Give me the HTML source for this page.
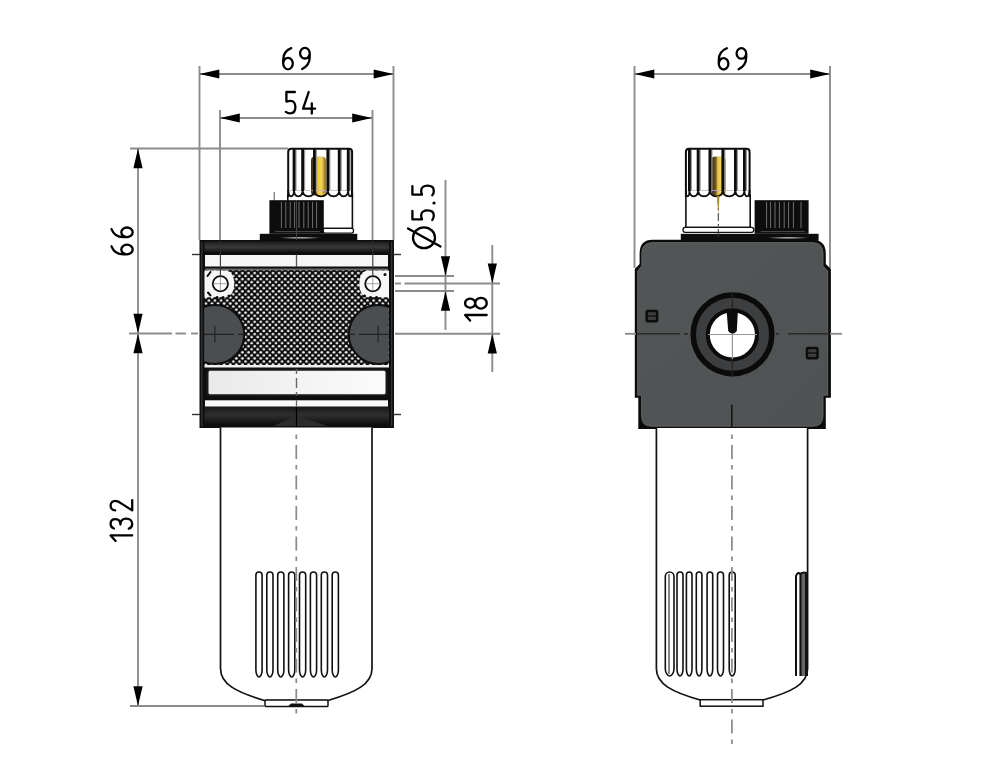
<!DOCTYPE html>
<html><head><meta charset="utf-8"><title>Lubricator drawing</title>
<style>html,body{margin:0;padding:0;background:#fff;width:1000px;height:764px;overflow:hidden;font-family:"Liberation Sans",sans-serif}svg{display:block}</style>
</head><body>
<svg width="1000" height="764" viewBox="0 0 1000 764"><defs><pattern id="knurl" x="0" y="0" width="6.1" height="6.1" patternUnits="userSpaceOnUse">
<rect width="6.1" height="6.1" fill="#0a0a0a"/>
<circle cx="1.525" cy="1.525" r="1.4" fill="#ececec"/><circle cx="4.575" cy="4.575" r="1.4" fill="#ececec"/></pattern>
<clipPath id="bodyL"><rect x="204.2" y="270" width="184.6" height="95"/></clipPath>
<linearGradient id="band2" x1="0" y1="0" x2="0" y2="1"><stop offset="0" stop-color="#161616"/><stop offset="0.4" stop-color="#303030"/><stop offset="1" stop-color="#0a0a0a"/></linearGradient><linearGradient id="pin" x1="0" y1="0" x2="1" y2="0"><stop offset="0" stop-color="#3a2e14"/><stop offset="0.3" stop-color="#6b5520"/><stop offset="0.45" stop-color="#e8c545"/><stop offset="0.7" stop-color="#f2d458"/><stop offset="1" stop-color="#8a6a22"/></linearGradient><linearGradient id="bar" x1="0" y1="0" x2="1" y2="0"><stop offset="0" stop-color="#e9e9e9"/><stop offset="0.5" stop-color="#f3f3f3"/><stop offset="1" stop-color="#fbfbfb"/></linearGradient><radialGradient id="hl"><stop offset="0" stop-color="#ccc"/><stop offset="1" stop-color="#0d0d0d"/></radialGradient><linearGradient id="bodyR" x1="0" y1="0" x2="1" y2="1"><stop offset="0" stop-color="#525657"/><stop offset="1" stop-color="#4e5253"/></linearGradient><linearGradient id="band" x1="0" y1="0" x2="0" y2="1"><stop offset="0" stop-color="#1a1a1a"/><stop offset="0.5" stop-color="#3a3a3a"/><stop offset="1" stop-color="#111"/></linearGradient>
</defs>
<rect x="199.5" y="240" width="194.5" height="188" fill="#0e0e0e"/>
<line x1="201.8" y1="242" x2="201.8" y2="426" stroke="#3a3a3a" stroke-width="1.2" />
<line x1="391.7" y1="242" x2="391.7" y2="426" stroke="#3a3a3a" stroke-width="1.2" />
<rect x="204.5" y="241.5" width="184.5" height="11" fill="url(#band)"/>
<rect x="205" y="255" width="183" height="11.5" fill="#f6f6f6"/>
<rect x="205" y="268.5" width="183" height="2" fill="#6a6a6a"/>
<rect x="204.5" y="270.5" width="184.5" height="94.5" fill="url(#knurl)"/>
<g clip-path="url(#bodyL)"><circle cx="214.7" cy="334.4" r="29.5" fill="#4a4e50" stroke="#0e0e0e" stroke-width="2"/><circle cx="378.3" cy="334.4" r="29.5" fill="#4a4e50" stroke="#0e0e0e" stroke-width="2"/></g>
<line x1="214.9" y1="326" x2="214.9" y2="342.6" stroke="#222" stroke-width="1.2" />
<line x1="378.1" y1="326" x2="378.1" y2="342.6" stroke="#222" stroke-width="1.2" />
<path d="M204.5 270.5 H227 Q234.2 273 234.2 283.7 Q234.2 294.5 227 297.2 H204.5 Z" fill="#f6f6f6"/>
<path d="M389 270.5 H366.5 Q359.3 273 359.3 283.7 Q359.3 294.5 366.5 297.2 H389 Z" fill="#f6f6f6"/>
<circle cx="217" cy="297.5" r="1.6" fill="#0a0a0a"/>
<circle cx="223" cy="297.5" r="1.6" fill="#0a0a0a"/>
<circle cx="229" cy="296" r="1.6" fill="#0a0a0a"/>
<circle cx="376.5" cy="297.5" r="1.6" fill="#0a0a0a"/>
<circle cx="370.5" cy="297.5" r="1.6" fill="#0a0a0a"/>
<circle cx="364.5" cy="296" r="1.6" fill="#0a0a0a"/>
<path d="M207.5 276 L210.5 272" stroke="#0a0a0a" stroke-width="2" stroke-linecap="round"/>
<path d="M208 292.5 L210.5 295.5" stroke="#0a0a0a" stroke-width="2" stroke-linecap="round"/>
<circle cx="385" cy="274.5" r="1.5" fill="#0a0a0a"/>
<circle cx="220.4" cy="283.7" r="7.6" fill="#fff" stroke="#0e0e0e" stroke-width="1.8"/>
<line x1="213.4" y1="283.7" x2="227.4" y2="283.7" stroke="#999" stroke-width="0.9" />
<line x1="220.4" y1="276.7" x2="220.4" y2="290.7" stroke="#999" stroke-width="0.9" />
<circle cx="372.8" cy="283.7" r="7.6" fill="#fff" stroke="#0e0e0e" stroke-width="1.8"/>
<line x1="365.8" y1="283.7" x2="379.8" y2="283.7" stroke="#999" stroke-width="0.9" />
<line x1="372.8" y1="276.7" x2="372.8" y2="290.7" stroke="#999" stroke-width="0.9" />
<rect x="204.5" y="365" width="184.5" height="2.5" fill="#f0f0f0"/>
<rect x="207.5" y="369.8" width="179" height="25.5" rx="2.5" fill="url(#bar)" stroke="#1a1a1a" stroke-width="2"/>
<rect x="205" y="400.3" width="183" height="6.2" fill="#f8f8f8"/>
<rect x="204.5" y="407" width="184.5" height="19" fill="url(#band2)"/>
<path d="M273.6 426 L296.5 415.5 L327 426 Z" fill="#2c2c2c"/>
<line x1="296.5" y1="407" x2="296.5" y2="427" stroke="#000" stroke-width="1.2" />
<line x1="274.2" y1="192" x2="274.2" y2="201" stroke="#555" stroke-width="1" />
<rect x="259.8" y="233.8" width="97.5" height="7" fill="#0d0d0d"/><ellipse cx="300" cy="237.8" rx="22" ry="1.3" fill="url(#hl)"/>
<rect x="287.8" y="195" width="64.6" height="33.5" fill="#fff" stroke="#111" stroke-width="1.6"/>
<rect x="323" y="228.3" width="30.5" height="4.8" rx="2" fill="#fff" stroke="#111" stroke-width="1.3"/>
<rect x="269.4" y="200.2" width="54.400000000000034" height="33.6" fill="#0d0d0d"/><line x1="281.4" y1="202" x2="281.4" y2="228" stroke="#7a7a7a" stroke-width="0.9" /><line x1="285.8" y1="202" x2="285.8" y2="228" stroke="#7a7a7a" stroke-width="0.9" /><line x1="290.2" y1="202" x2="290.2" y2="228" stroke="#7a7a7a" stroke-width="0.9" /><line x1="294.6" y1="202" x2="294.6" y2="228" stroke="#7a7a7a" stroke-width="0.9" /><line x1="299" y1="202" x2="299" y2="228" stroke="#7a7a7a" stroke-width="0.9" /><line x1="303.8" y1="202" x2="303.8" y2="228" stroke="#7a7a7a" stroke-width="0.9" /><line x1="308.2" y1="202" x2="308.2" y2="228" stroke="#7a7a7a" stroke-width="0.9" /><line x1="312.6" y1="202" x2="312.6" y2="228" stroke="#7a7a7a" stroke-width="0.9" /><line x1="316.6" y1="202" x2="316.6" y2="228" stroke="#7a7a7a" stroke-width="0.9" /><line x1="275.4" y1="231.6" x2="319.8" y2="231.6" stroke="#555" stroke-width="0.9" />
<path d="M288.2 197 V152 Q288.2 148.8 291.4 148.8 H348.90000000000003 Q352.1 148.8 352.1 152 V197" fill="#fff" stroke="#0d0d0d" stroke-width="2"/><rect x="311" y="156.5" width="15" height="39" rx="4" fill="url(#pin)"/><line x1="288.2" y1="190.5" x2="352.1" y2="190.5" stroke="#bbb" stroke-width="0.8" /><path d="M288.2 190 Q288.2 196.3 291.1 196.3 Q294 196.3 294 190 M294 190 Q294 196.3 298.3 196.3 Q302.6 196.3 302.6 190 M302.6 190 Q302.6 196.3 308.5 196.3 Q314.4 196.3 314.4 190 M314.4 190 Q314.4 196.3 321.1 196.3 Q327.8 196.3 327.8 190 M327.8 190 Q327.8 196.3 333.5 196.3 Q339.2 196.3 339.2 190 M339.2 190 Q339.2 196.3 343.7 196.3 Q348.2 196.3 348.2 190 M348.2 190 Q348.2 196.3 350.15 196.3 Q352.1 196.3 352.1 190 " fill="none" stroke="#0d0d0d" stroke-width="1.8"/><line x1="295.8" y1="150" x2="295.8" y2="190" stroke="#9a9a9a" stroke-width="1.6" /><line x1="294" y1="149" x2="294" y2="191" stroke="#0d0d0d" stroke-width="2.8" /><line x1="304.40000000000003" y1="150" x2="304.40000000000003" y2="190" stroke="#9a9a9a" stroke-width="1.6" /><line x1="302.6" y1="149" x2="302.6" y2="191" stroke="#0d0d0d" stroke-width="2.8" /><line x1="316.2" y1="150" x2="316.2" y2="190" stroke="#9a9a9a" stroke-width="1.6" /><line x1="314.4" y1="149" x2="314.4" y2="191" stroke="#0d0d0d" stroke-width="2.8" /><line x1="329.6" y1="150" x2="329.6" y2="190" stroke="#9a9a9a" stroke-width="1.6" /><line x1="327.8" y1="149" x2="327.8" y2="191" stroke="#0d0d0d" stroke-width="2.8" /><line x1="341.0" y1="150" x2="341.0" y2="190" stroke="#9a9a9a" stroke-width="1.6" /><line x1="339.2" y1="149" x2="339.2" y2="191" stroke="#0d0d0d" stroke-width="2.8" /><line x1="350.0" y1="150" x2="350.0" y2="190" stroke="#9a9a9a" stroke-width="1.6" /><line x1="348.2" y1="149" x2="348.2" y2="191" stroke="#0d0d0d" stroke-width="2.8" />
<path d="M220.5 427.5 V668.4 C220.5 684 236 692 264.5 700.5 H328 C356.5 692 372 684 372 668.4 V427.5" fill="#fff" stroke="#111" stroke-width="1.7"/>
<rect x="265" y="700" width="63" height="6.6" rx="1.2" fill="#fff" stroke="#111" stroke-width="1.5"/>
<path d="M288.5 706 L291 703.5 H302 L304.5 706 Z" fill="#111"/>
<path d="M255.90 575.10 A3.10 3.10 0 0 1 262.10 575.10 V670.00 C262.10 674.50 260.20 677.00 259.00 677.00 C257.80 677.00 255.90 674.50 255.90 670.00 Z" fill="none" stroke="#111" stroke-width="1.6"/>
<path d="M266.80 575.10 A3.10 3.10 0 0 1 273.00 575.10 V670.00 C273.00 674.50 271.10 677.00 269.90 677.00 C268.70 677.00 266.80 674.50 266.80 670.00 Z" fill="none" stroke="#111" stroke-width="1.6"/>
<path d="M277.70 575.10 A3.10 3.10 0 0 1 283.90 575.10 V670.00 C283.90 674.50 282.00 677.00 280.80 677.00 C279.60 677.00 277.70 674.50 277.70 670.00 Z" fill="none" stroke="#111" stroke-width="1.6"/>
<path d="M288.60 575.10 A3.10 3.10 0 0 1 294.80 575.10 V670.00 C294.80 674.50 292.90 677.00 291.70 677.00 C290.50 677.00 288.60 674.50 288.60 670.00 Z" fill="none" stroke="#111" stroke-width="1.6"/>
<path d="M299.50 575.10 A3.10 3.10 0 0 1 305.70 575.10 V670.00 C305.70 674.50 303.80 677.00 302.60 677.00 C301.40 677.00 299.50 674.50 299.50 670.00 Z" fill="none" stroke="#111" stroke-width="1.6"/>
<path d="M310.40 575.10 A3.10 3.10 0 0 1 316.60 575.10 V670.00 C316.60 674.50 314.70 677.00 313.50 677.00 C312.30 677.00 310.40 674.50 310.40 670.00 Z" fill="none" stroke="#111" stroke-width="1.6"/>
<path d="M321.30 575.10 A3.10 3.10 0 0 1 327.50 575.10 V670.00 C327.50 674.50 325.60 677.00 324.40 677.00 C323.20 677.00 321.30 674.50 321.30 670.00 Z" fill="none" stroke="#111" stroke-width="1.6"/>
<path d="M332.20 575.10 A3.10 3.10 0 0 1 338.40 575.10 V670.00 C338.40 674.50 336.50 677.00 335.30 677.00 C334.10 677.00 332.20 674.50 332.20 670.00 Z" fill="none" stroke="#111" stroke-width="1.6"/>
<line x1="199.5" y1="66" x2="199.5" y2="240" stroke="#8c8c8c" stroke-width="1.9" />
<line x1="393.5" y1="66" x2="393.5" y2="240" stroke="#8c8c8c" stroke-width="1.9" />
<line x1="199.5" y1="74" x2="393.5" y2="74" stroke="#8c8c8c" stroke-width="1.9" />
<polygon points="199.5,74.0 219.3,69.4 219.3,78.6" fill="#000"/>
<polygon points="393.5,74.0 373.7,69.4 373.7,78.6" fill="#000"/>
<line x1="220" y1="110" x2="220" y2="240" stroke="#8c8c8c" stroke-width="1.9" />
<line x1="372.5" y1="110" x2="372.5" y2="240" stroke="#8c8c8c" stroke-width="1.9" />
<line x1="220.4" y1="241" x2="220.4" y2="276" stroke="#333" stroke-width="1.1" />
<line x1="372.8" y1="241" x2="372.8" y2="276" stroke="#333" stroke-width="1.1" />
<line x1="220" y1="118" x2="372" y2="118" stroke="#8c8c8c" stroke-width="1.9" />
<polygon points="220.0,118.0 239.8,113.4 239.8,122.6" fill="#000"/>
<polygon points="372.0,118.0 352.2,113.4 352.2,122.6" fill="#000"/>
<line x1="130" y1="148.5" x2="288" y2="148.5" stroke="#8c8c8c" stroke-width="1.9" />
<line x1="138" y1="148.5" x2="138" y2="706" stroke="#8c8c8c" stroke-width="1.9" />
<polygon points="138.0,148.5 133.4,168.3 142.6,168.3" fill="#000"/>
<polygon points="138.0,333.5 133.4,313.7 142.6,313.7" fill="#000"/>
<polygon points="138.0,333.5 133.4,353.3 142.6,353.3" fill="#000"/>
<polygon points="138.0,706.0 133.4,686.2 142.6,686.2" fill="#000"/>
<line x1="129" y1="333.5" x2="172" y2="333.5" stroke="#8c8c8c" stroke-width="1.9" />
<line x1="175.5" y1="333.5" x2="186" y2="333.5" stroke="#8c8c8c" stroke-width="1.9" />
<line x1="191" y1="333.5" x2="198" y2="333.5" stroke="#8c8c8c" stroke-width="1.9" />
<line x1="130" y1="706" x2="264" y2="706" stroke="#8c8c8c" stroke-width="1.9" />
<line x1="192" y1="254.5" x2="200" y2="254.5" stroke="#333" stroke-width="1.4" />
<line x1="393" y1="254.5" x2="401" y2="254.5" stroke="#333" stroke-width="1.4" />
<line x1="192" y1="414.5" x2="200" y2="414.5" stroke="#333" stroke-width="1.4" />
<line x1="393" y1="414.5" x2="401" y2="414.5" stroke="#333" stroke-width="1.4" />
<line x1="395" y1="276" x2="454" y2="276" stroke="#8c8c8c" stroke-width="1.9" />
<line x1="395" y1="291" x2="454" y2="291" stroke="#8c8c8c" stroke-width="1.9" />
<line x1="395" y1="283.5" x2="401" y2="283.5" stroke="#8c8c8c" stroke-width="1.9" />
<line x1="404.5" y1="283.5" x2="500" y2="283.5" stroke="#8c8c8c" stroke-width="1.9" />
<line x1="395" y1="333.8" x2="500" y2="333.8" stroke="#8c8c8c" stroke-width="1.9" />
<line x1="445.5" y1="180" x2="445.5" y2="330" stroke="#8c8c8c" stroke-width="1.9" />
<polygon points="445.5,276.0 440.9,256.2 450.1,256.2" fill="#000"/>
<polygon points="445.5,291.0 440.9,310.8 450.1,310.8" fill="#000"/>
<line x1="492.3" y1="245" x2="492.3" y2="372" stroke="#8c8c8c" stroke-width="1.9" />
<polygon points="492.3,283.4 487.7,263.6 496.9,263.6" fill="#000"/>
<polygon points="492.3,333.8 487.7,353.6 496.9,353.6" fill="#000"/>
<line x1="296.5" y1="200" x2="296.5" y2="240" stroke="#444" stroke-width="1" />
<line x1="296.5" y1="254.5" x2="296.5" y2="267" stroke="#555" stroke-width="1.3" />
<line x1="296.5" y1="369" x2="296.5" y2="395.5" stroke="#666" stroke-width="1.4" stroke-dasharray="5 4 10 4"/>
<line x1="296.5" y1="400.3" x2="296.5" y2="406.5" stroke="#666" stroke-width="1.3" />
<line x1="296.3" y1="430" x2="296.3" y2="715" stroke="#8c8c8c" stroke-width="1.75" stroke-dasharray="14 6 4.5 6" stroke-dashoffset="15.6"/>
<line x1="204" y1="334.4" x2="244" y2="334.4" stroke="#222" stroke-width="1.3" stroke-dasharray="30 4 6 4"/>
<line x1="349" y1="334.4" x2="389" y2="334.4" stroke="#222" stroke-width="1.3" stroke-dasharray="6 4 30 4"/>
<line x1="634.5" y1="66" x2="634.5" y2="268" stroke="#8c8c8c" stroke-width="1.9" />
<line x1="830" y1="66" x2="830" y2="268" stroke="#8c8c8c" stroke-width="1.9" />
<line x1="634.5" y1="74" x2="830" y2="74" stroke="#8c8c8c" stroke-width="1.9" />
<polygon points="634.5,74.0 654.3,69.4 654.3,78.6" fill="#000"/>
<polygon points="830.0,74.0 810.2,69.4 810.2,78.6" fill="#000"/>
<rect x="680.8" y="233.8" width="137.80000000000007" height="7" fill="#0d0d0d"/><ellipse cx="788" cy="237.8" rx="22" ry="1.3" fill="url(#hl)"/>
<rect x="685.9" y="195" width="64.3" height="32.5" fill="#fff" stroke="#111" stroke-width="1.6"/>
<rect x="683" y="227.3" width="70.8" height="5" rx="2.2" fill="#fff" stroke="#111" stroke-width="1.3"/>
<rect x="754.6" y="200.2" width="54.0" height="33.6" fill="#0d0d0d"/><line x1="766.6" y1="202" x2="766.6" y2="228" stroke="#7a7a7a" stroke-width="0.9" /><line x1="770.6" y1="202" x2="770.6" y2="228" stroke="#7a7a7a" stroke-width="0.9" /><line x1="775" y1="202" x2="775" y2="228" stroke="#7a7a7a" stroke-width="0.9" /><line x1="779.4" y1="202" x2="779.4" y2="228" stroke="#7a7a7a" stroke-width="0.9" /><line x1="784.2" y1="202" x2="784.2" y2="228" stroke="#7a7a7a" stroke-width="0.9" /><line x1="788.6" y1="202" x2="788.6" y2="228" stroke="#7a7a7a" stroke-width="0.9" /><line x1="793.4" y1="202" x2="793.4" y2="228" stroke="#7a7a7a" stroke-width="0.9" /><line x1="801" y1="202" x2="801" y2="228" stroke="#7a7a7a" stroke-width="0.9" /><line x1="760.6" y1="231.6" x2="804.6" y2="231.6" stroke="#555" stroke-width="0.9" />
<path d="M685.9 197 V152 Q685.9 148.8 689.1 148.8 H746.4 Q749.6 148.8 749.6 152 V197" fill="#fff" stroke="#0d0d0d" stroke-width="2"/><rect x="711.4" y="156.5" width="14.200000000000045" height="39" rx="4" fill="url(#pin)"/><line x1="685.9" y1="190.5" x2="749.6" y2="190.5" stroke="#bbb" stroke-width="0.8" /><path d="M685.9 190 Q685.9 196.3 687.65 196.3 Q689.4 196.3 689.4 190 M689.4 190 Q689.4 196.3 693.75 196.3 Q698.1 196.3 698.1 190 M698.1 190 Q698.1 196.3 704.0 196.3 Q709.9 196.3 709.9 190 M709.9 190 Q709.9 196.3 716.3499999999999 196.3 Q722.8 196.3 722.8 190 M722.8 190 Q722.8 196.3 729.0999999999999 196.3 Q735.4 196.3 735.4 190 M735.4 190 Q735.4 196.3 739.9 196.3 Q744.4 196.3 744.4 190 M744.4 190 Q744.4 196.3 747.0 196.3 Q749.6 196.3 749.6 190 " fill="none" stroke="#0d0d0d" stroke-width="1.8"/><line x1="691.1999999999999" y1="150" x2="691.1999999999999" y2="190" stroke="#9a9a9a" stroke-width="1.6" /><line x1="689.4" y1="149" x2="689.4" y2="191" stroke="#0d0d0d" stroke-width="2.8" /><line x1="699.9" y1="150" x2="699.9" y2="190" stroke="#9a9a9a" stroke-width="1.6" /><line x1="698.1" y1="149" x2="698.1" y2="191" stroke="#0d0d0d" stroke-width="2.8" /><line x1="711.6999999999999" y1="150" x2="711.6999999999999" y2="190" stroke="#9a9a9a" stroke-width="1.6" /><line x1="709.9" y1="149" x2="709.9" y2="191" stroke="#0d0d0d" stroke-width="2.8" /><line x1="724.5999999999999" y1="150" x2="724.5999999999999" y2="190" stroke="#9a9a9a" stroke-width="1.6" /><line x1="722.8" y1="149" x2="722.8" y2="191" stroke="#0d0d0d" stroke-width="2.8" /><line x1="737.1999999999999" y1="150" x2="737.1999999999999" y2="190" stroke="#9a9a9a" stroke-width="1.6" /><line x1="735.4" y1="149" x2="735.4" y2="191" stroke="#0d0d0d" stroke-width="2.8" /><line x1="746.1999999999999" y1="150" x2="746.1999999999999" y2="190" stroke="#9a9a9a" stroke-width="1.6" /><line x1="744.4" y1="149" x2="744.4" y2="191" stroke="#0d0d0d" stroke-width="2.8" />
<line x1="718.3" y1="197" x2="718.3" y2="240" stroke="#333" stroke-width="1" stroke-dasharray="8 3 2 3"/>
<path d="M717 196 L719.5 196 L718.6 212 L718 212 Z" fill="#b08a30"/>
<path d="M652.7 239.8 H812 Q825.8 239.8 825.8 253.5 V264 L830.9 269 V397.8 H825.8 V429 H638.3 V397.8 H634.8 V269 L639.6 264 V253.5 Q639.6 239.8 652.7 239.8 Z" fill="#0b0b0b"/>
<path d="M653 242.6 H812 Q823 242.6 823 253.5 V266 L827.8 271 V395.2 H823 V416 Q823 426.2 813 426.2 H651 Q641.6 426.2 641.6 416 V395.2 H637.6 V271 L641.8 266 V253.5 Q641.8 242.6 653 242.6 Z" fill="url(#bodyR)" stroke="#6a6c6d" stroke-width="0.8"/>
<circle cx="732.5" cy="334.3" r="39.3" fill="#3d3e3f" stroke="#0b0b0b" stroke-width="5.6"/>
<circle cx="732.4" cy="334.8" r="24.6" fill="#fff" stroke="#0b0b0b" stroke-width="4"/>
<line x1="708" y1="334.5" x2="757" y2="334.5" stroke="#999" stroke-width="1.2" />
<line x1="732.4" y1="334" x2="732.4" y2="360" stroke="#999" stroke-width="1.2" />
<line x1="732.4" y1="293" x2="732.4" y2="310" stroke="#222" stroke-width="1.2" />
<line x1="732.4" y1="359" x2="732.4" y2="376" stroke="#222" stroke-width="1.2" />
<path d="M726.5 309 H738 L736.8 331 Q732.4 336.5 728.2 331 Z" fill="#0b0b0b"/>
<rect x="645.4" y="309.7" width="13" height="12.8" rx="2.2" fill="#0d0d0d"/><rect x="647.9" y="312.2" width="8" height="3.2" fill="#3e3e3e"/><rect x="647.9" y="316.7" width="8" height="3.2" fill="#3e3e3e"/>
<rect x="805.7" y="346.7" width="13" height="12.8" rx="2.2" fill="#0d0d0d"/><rect x="808.2" y="349.2" width="8" height="3.2" fill="#3e3e3e"/><rect x="808.2" y="353.7" width="8" height="3.2" fill="#3e3e3e"/>
<line x1="625" y1="333.8" x2="636" y2="333.8" stroke="#8c8c8c" stroke-width="1.9" />
<line x1="637" y1="333.8" x2="680" y2="333.8" stroke="#2a2a2a" stroke-width="1.6" />
<line x1="684" y1="333.8" x2="688" y2="333.8" stroke="#2a2a2a" stroke-width="1.6" />
<line x1="776" y1="333.8" x2="779" y2="333.8" stroke="#2a2a2a" stroke-width="1.6" />
<line x1="788" y1="333.8" x2="829" y2="333.8" stroke="#2a2a2a" stroke-width="1.6" />
<line x1="830" y1="333.8" x2="842" y2="333.8" stroke="#8c8c8c" stroke-width="1.9" />
<line x1="731.8" y1="404.8" x2="731.8" y2="428" stroke="#111" stroke-width="1.5" />
<path d="M656.4 428 V668.8 C656.4 684 672 692 700.2 700 H763 C791.6 692 807.6 684 807.6 668.8 V428" fill="#fff" stroke="#111" stroke-width="1.7"/>
<rect x="700.2" y="699.7" width="62.8" height="6.5" fill="#fff" stroke="#111" stroke-width="1.5"/>
<path d="M665.30 576.35 A4.35 4.35 0 0 1 674.00 576.35 V669.00 C674.00 673.50 670.85 676.00 669.65 676.00 C668.45 676.00 665.30 673.50 665.30 669.00 Z" fill="none" stroke="#111" stroke-width="1.6"/>
<path d="M677.00 575.00 A3.00 3.00 0 0 1 683.00 575.00 V669.00 C683.00 673.50 681.20 676.00 680.00 676.00 C678.80 676.00 677.00 673.50 677.00 669.00 Z" fill="none" stroke="#111" stroke-width="1.6"/>
<path d="M686.40 574.80 A2.80 2.80 0 0 1 692.00 574.80 V669.00 C692.00 673.50 690.40 676.00 689.20 676.00 C688.00 676.00 686.40 673.50 686.40 669.00 Z" fill="none" stroke="#111" stroke-width="1.6"/>
<path d="M696.30 574.80 A2.80 2.80 0 0 1 701.90 574.80 V669.00 C701.90 673.50 700.30 676.00 699.10 676.00 C697.90 676.00 696.30 673.50 696.30 669.00 Z" fill="none" stroke="#111" stroke-width="1.6"/>
<path d="M707.10 574.80 A2.80 2.80 0 0 1 712.70 574.80 V669.00 C712.70 673.50 711.10 676.00 709.90 676.00 C708.70 676.00 707.10 673.50 707.10 669.00 Z" fill="none" stroke="#111" stroke-width="1.6"/>
<path d="M717.50 575.00 A3.00 3.00 0 0 1 723.50 575.00 V669.00 C723.50 673.50 721.70 676.00 720.50 676.00 C719.30 676.00 717.50 673.50 717.50 669.00 Z" fill="none" stroke="#111" stroke-width="1.6"/>
<path d="M729.20 575.00 A3.00 3.00 0 0 1 735.20 575.00 V669.00 C735.20 673.50 733.40 676.00 732.20 676.00 C731.00 676.00 729.20 673.50 729.20 669.00 Z" fill="none" stroke="#111" stroke-width="1.6"/>
<line x1="669" y1="574" x2="669" y2="674" stroke="#333" stroke-width="1.2" />
<rect x="801" y="572" width="4.5" height="104" fill="#666"/>
<path d="M796 676 V576 Q797.5 571.5 800.5 574 Q803 571.5 806.5 573 V676" fill="none" stroke="#111" stroke-width="2"/>
<line x1="800.5" y1="574" x2="800.5" y2="676" stroke="#111" stroke-width="2.2" />
<line x1="806.5" y1="573" x2="806.5" y2="676" stroke="#111" stroke-width="3" />
<line x1="731.9" y1="430" x2="731.9" y2="750" stroke="#8c8c8c" stroke-width="1.75" stroke-dasharray="14 6 4.5 6" stroke-dashoffset="15.6"/>
<path d="M9.2 1.3 C5 2.9 1.2 6.8 1.2 13 V16.8 A4.8 5.7 0 1 0 10.8 16.8 A4.8 5.7 0 1 0 1.2 16.8" transform="translate(282,46.8)" fill="none" stroke="#000" stroke-width="2.3" stroke-linecap="round" stroke-linejoin="round"/>
<path d="M11.2 6.4 V10.5 C11.2 16.2 7.8 20.2 3.6 22.2 M11.2 6.4 A4.8 5.3 0 1 0 1.6 6.4 A4.8 5.3 0 1 0 11.2 6.4" transform="translate(298.5,46.8)" fill="none" stroke="#000" stroke-width="2.3" stroke-linecap="round" stroke-linejoin="round"/>
<path d="M10.3 1.2 H1.8 V10.8 C3.2 10.2 4.6 10 6 10 C9 10 10.8 12.7 10.8 16.3 C10.8 20.2 8.7 22.6 5.6 22.6 C3.8 22.6 2.3 22 1.2 21.1" transform="translate(284.6,90.8)" fill="none" stroke="#000" stroke-width="2.3" stroke-linecap="round" stroke-linejoin="round"/>
<path d="M6.8 1.2 L1.2 17.9 H13.2 M9.9 12.6 V22.8" transform="translate(301.9,90.8)" fill="none" stroke="#000" stroke-width="2.3" stroke-linecap="round" stroke-linejoin="round"/>
<path d="M9.2 1.3 C5 2.9 1.2 6.8 1.2 13 V16.8 A4.8 5.7 0 1 0 10.8 16.8 A4.8 5.7 0 1 0 1.2 16.8" transform="translate(717.6,47)" fill="none" stroke="#000" stroke-width="2.3" stroke-linecap="round" stroke-linejoin="round"/>
<path d="M11.2 6.4 V10.5 C11.2 16.2 7.8 20.2 3.6 22.2 M11.2 6.4 A4.8 5.3 0 1 0 1.6 6.4 A4.8 5.3 0 1 0 11.2 6.4" transform="translate(735,47)" fill="none" stroke="#000" stroke-width="2.3" stroke-linecap="round" stroke-linejoin="round"/>
<path d="M9.2 1.3 C5 2.9 1.2 6.8 1.2 13 V16.8 A4.8 5.7 0 1 0 10.8 16.8 A4.8 5.7 0 1 0 1.2 16.8" transform="translate(110.2,255.5) rotate(-90)" fill="none" stroke="#000" stroke-width="2.3" stroke-linecap="round" stroke-linejoin="round"/>
<path d="M9.2 1.3 C5 2.9 1.2 6.8 1.2 13 V16.8 A4.8 5.7 0 1 0 10.8 16.8 A4.8 5.7 0 1 0 1.2 16.8" transform="translate(110.2,238.3) rotate(-90)" fill="none" stroke="#000" stroke-width="2.3" stroke-linecap="round" stroke-linejoin="round"/>
<path d="M1.2 6.2 L6.8 1.2 V22.8" transform="translate(109.4,542.2) rotate(-90)" fill="none" stroke="#000" stroke-width="2.3" stroke-linecap="round" stroke-linejoin="round"/>
<path d="M1.3 4.6 C1.9 2.4 3.8 1.2 6 1.2 C8.8 1.2 10.6 3.2 10.6 6 C10.6 9 8.6 11 5.2 11 C9 11 11.2 13.4 11.2 16.8 C11.2 20.5 8.8 22.8 5.8 22.8 C3.5 22.8 1.8 21.6 1.2 19.4" transform="translate(109.4,529.8) rotate(-90)" fill="none" stroke="#000" stroke-width="2.3" stroke-linecap="round" stroke-linejoin="round"/>
<path d="M1.2 5.8 C1.2 3 3.4 1.2 6 1.2 C8.8 1.2 10.8 3.2 10.8 6 C10.8 8.6 9.6 10.2 8 12.2 L1.2 22.8 H11.4" transform="translate(109.4,511.6) rotate(-90)" fill="none" stroke="#000" stroke-width="2.3" stroke-linecap="round" stroke-linejoin="round"/>
<path d="M1.2 6.2 L6.8 1.2 V22.8" transform="translate(463.9,321.8) rotate(-90)" fill="none" stroke="#000" stroke-width="2.3" stroke-linecap="round" stroke-linejoin="round"/>
<path d="M6 11.3 A4.5 5.05 0 1 1 6.01 11.3 Z M6 11.3 A5.3 5.75 0 1 0 6.01 11.3 Z" transform="translate(463.9,309.2) rotate(-90)" fill="none" stroke="#000" stroke-width="2.3" stroke-linecap="round" stroke-linejoin="round"/>
<path d="M10.3 1.2 H1.8 V10.8 C3.2 10.2 4.6 10 6 10 C9 10 10.8 12.7 10.8 16.3 C10.8 20.2 8.7 22.6 5.6 22.6 C3.8 22.6 2.3 22 1.2 21.1" transform="translate(411.2,221.2) rotate(-90)" fill="none" stroke="#000" stroke-width="2.3" stroke-linecap="round" stroke-linejoin="round"/>
<path d="M10.3 1.2 H1.8 V10.8 C3.2 10.2 4.6 10 6 10 C9 10 10.8 12.7 10.8 16.3 C10.8 20.2 8.7 22.6 5.6 22.6 C3.8 22.6 2.3 22 1.2 21.1" transform="translate(411.2,196.5) rotate(-90)" fill="none" stroke="#000" stroke-width="2.3" stroke-linecap="round" stroke-linejoin="round"/>
<circle cx="434" cy="203" r="1.6" fill="#000"/>
<ellipse cx="424" cy="237.7" rx="11" ry="10.4" fill="none" stroke="#000" stroke-width="2.3"/>
<line x1="408" y1="228.5" x2="440.5" y2="246.5" stroke="#000" stroke-width="2.3" stroke-linecap="round"/></svg>
</body></html>
